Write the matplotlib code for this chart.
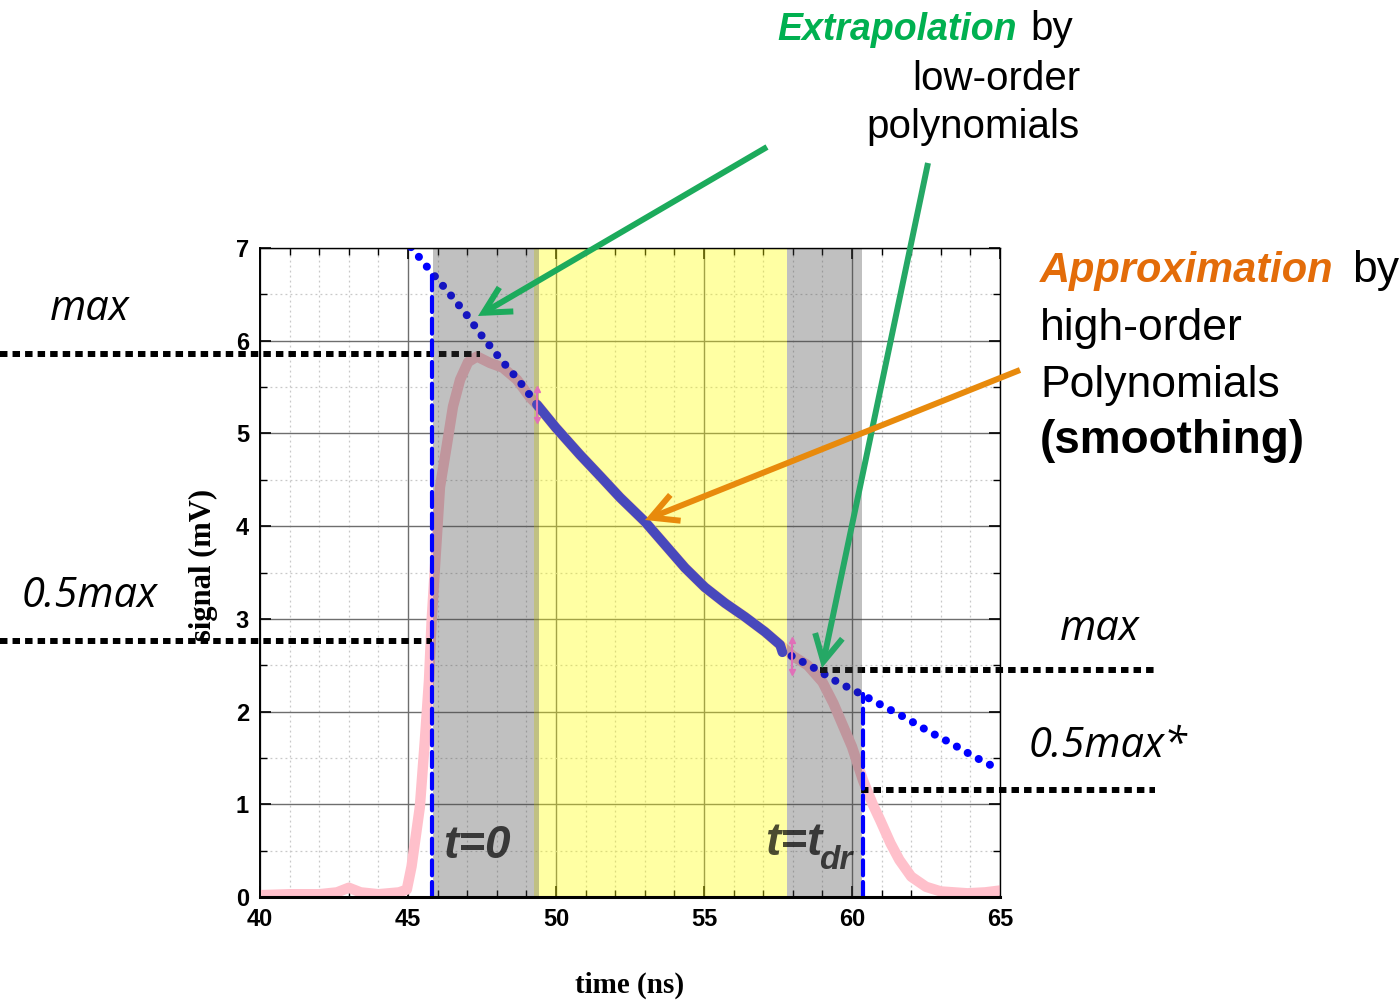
import matplotlib
matplotlib.use("Agg")
import matplotlib.pyplot as plt
from matplotlib.patches import FancyArrowPatch
from matplotlib.ticker import MultipleLocator

# ---------------- data ----------------
signal_t = [40.0, 41.0, 42.0, 42.6, 43.0, 43.4, 44.0, 44.7, 44.96, 45.12, 45.4, 45.57, 45.71,
            45.8, 46.08, 46.3, 46.52, 46.76, 47.03, 47.33, 47.77, 48.2, 48.68, 49.12, 49.36,
            50.0, 50.81, 51.49, 52.16, 53.0, 53.68, 54.36, 55.03, 55.71, 56.39, 57.06, 57.57,
            58.0, 58.5, 59.0, 59.37, 60.0, 60.37, 60.7, 60.95, 61.3, 61.6, 62.0, 62.5, 63.0,
            63.9, 64.5, 65.0]
signal_v = [0.02, 0.03, 0.03, 0.05, 0.10, 0.05, 0.03, 0.05, 0.08, 0.33, 0.97, 1.69, 2.34,
            2.99, 4.42, 4.85, 5.29, 5.58, 5.77, 5.83, 5.76, 5.71, 5.58, 5.39, 5.31,
            5.06, 4.77, 4.54, 4.31, 4.05, 3.80, 3.55, 3.34, 3.17, 3.02, 2.86, 2.72,
            2.60, 2.50, 2.32, 2.09, 1.62, 1.26, 1.00, 0.83, 0.58, 0.40, 0.22, 0.11, 0.06,
            0.04, 0.05, 0.07]

fit_t = [49.36, 50.0, 50.81, 51.49, 52.16, 53.0, 53.68, 54.36, 55.03, 55.71, 56.39, 57.06, 57.57, 57.65]
fit_v = [5.31, 5.06, 4.77, 4.54, 4.31, 4.05, 3.80, 3.55, 3.34, 3.17, 3.02, 2.86, 2.72, 2.64]

extrap_left_t = [45.1, 45.71, 46.32, 46.93, 47.5, 48.1, 48.72, 49.36]
extrap_left_v = [7.01, 6.77, 6.54, 6.30, 6.05, 5.81, 5.58, 5.31]
extrap_right_t = [57.96, 58.72, 59.5, 60.3, 61.05, 61.82, 62.57, 63.34, 64.09, 65.0]
extrap_right_v = [2.60, 2.47, 2.32, 2.19, 2.06, 1.93, 1.79, 1.66, 1.52, 1.37]

t0 = 45.81
t_dr = 60.37
t0_top = 6.74
tdr_top = 2.19

gray_spans = [(45.84, 49.42), (57.80, 60.34)]
yellow_span = (49.25, 57.80)

bound_t = [49.36, 57.97]
bound_v = [5.31, 2.60]
bound_err = [0.17, 0.17]

max_left = 5.86
half_left = 2.76
max_right = 2.45
half_right = 1.15

xticks = [40, 45, 50, 55, 60, 65]
yticks = [0, 1, 2, 3, 4, 5, 6, 7]

# ---------------- figure ----------------
W, H = 1400, 1002
def fx(x):
    return x / W
def fy(y):
    return 1 - y / H

fig = plt.figure(figsize=(14, 10.02), dpi=100)
ax = fig.add_axes([260 / W, 1 - 897 / H, 740 / W, 649 / H])
ax.set_xlim(40, 65)
ax.set_ylim(0, 7)

# grid
ax.xaxis.set_minor_locator(MultipleLocator(1))
ax.yaxis.set_minor_locator(MultipleLocator(0.5))
ax.set_xticks(xticks)
ax.set_yticks(yticks)
ax.grid(which='major', color='#6e6e6e', lw=1.0, ls='-', zorder=1.5)
ax.grid(which='minor', color='#c8c8c8', lw=0.9, ls=(0, (1.5, 2.5)), zorder=1.4)
ax.set_axisbelow(True)

# pink signal
ax.plot(signal_t, signal_v, color='#ffc0cb', lw=7.5, solid_capstyle='round', zorder=2.0)

# extrapolation dotted lines
dot_style = dict(color='#0000ff', lw=5.8, ls=(0, (0.01, 1.55)), dash_capstyle='round', zorder=2.1)
ax.plot(extrap_left_t, extrap_left_v, **dot_style)
ax.plot(extrap_right_t, extrap_right_v, **dot_style)

# black dotted level lines (extend outside axes)
xl = 40 + (0 - 260) / 29.6
xr = 40 + (1155 - 260) / 29.6
blk = dict(color='black', lw=4.3, ls=(0, (1.25, 0.85)), dash_capstyle='butt', clip_on=False, zorder=2.2)
ax.plot([xl, 47.43], [max_left, max_left], **blk)
ax.plot([xl, t0], [half_left, half_left], **blk)
ax.plot([58.92, xr], [max_right, max_right], **blk)
ax.plot([t_dr - 0.05, xr], [half_right, half_right], **blk)

# overlays
ax.axvspan(*yellow_span, color='#ffff00', alpha=0.36, lw=0, zorder=2.5)
for a, b in gray_spans:
    ax.axvspan(a, b, color='#424242', alpha=0.33, lw=0, zorder=2.6)

# high-order fit
ax.plot(fit_t, fit_v, color='#4848bc', lw=7.0, solid_capstyle='round', zorder=4)

# boundary markers
for bt, bv, be in zip(bound_t, bound_v, bound_err):
    ax.plot([bt, bt], [bv - be, bv + be], color='#e070b8', lw=1.5, zorder=4.2)
    ax.plot([bt], [bv + be], marker='^', ms=5, color='#e070b8', zorder=4.2)
    ax.plot([bt], [bv - be], marker='v', ms=5, color='#e070b8', zorder=4.2)

# dashed verticals
dash = dict(color='#0000ff', lw=3.0, ls=(0, (3.6, 1.6)), dash_capstyle='round', zorder=5)
ax.plot([t0, t0], [0, t0_top], **dash)
ax.plot([t_dr, t_dr], [0, tdr_top], **dash)

# t labels
ax.text(46.2, 0.42, 't=0', fontsize=33, fontweight='bold', fontstyle='italic',
        family='Liberation Sans', color='black', alpha=0.7, zorder=6)
ax.text(57.05, 0.45, 't=t', fontsize=33, fontweight='bold', fontstyle='italic',
        family='Liberation Sans', color='black', alpha=0.7, zorder=6)
ax.text(58.9, 0.30, 'dr', fontsize=24, fontweight='bold', fontstyle='italic',
        family='Liberation Sans', color='black', alpha=0.7, zorder=6)

# ticks & spines
tickfont = ['Liberation Sans Narrow', 'Liberation Sans', 'DejaVu Sans']
ax.tick_params(which='both', direction='in', top=True, right=True, color='black')
ax.tick_params(which='major', length=8, width=1.2, pad=8)
ax.tick_params(which='minor', length=5, width=1.0)
for lab in ax.get_xticklabels() + ax.get_yticklabels():
    lab.set_fontfamily(tickfont)
    lab.set_fontweight('bold')
    lab.set_fontsize(17)
for s in ax.spines.values():
    s.set_color('black')
    s.set_linewidth(1.0)
    s.set_zorder(7)
ax.spines['bottom'].set_linewidth(2.2)
ax.spines['left'].set_linewidth(1.4)

# axis labels
fig.text(fx(630), fy(985), 'time (ns)', ha='center', va='center', fontsize=21,
         fontweight='bold', family=['Liberation Serif', 'DejaVu Serif'])
fig.text(fx(203), fy(565), 'signal (mV)', ha='center', va='center', rotation=90, fontsize=22,
         fontweight='bold', family=['Liberation Serif', 'DejaVu Serif'])

# level labels
lvl = dict(fontsize=30, fontstyle='italic', family=['Open Sans', 'DejaVu Sans'], va='baseline')
fig.text(fx(90), fy(320), 'max', ha='center', **lvl)
fig.text(fx(90), fy(607), '0.5max', ha='center', **lvl)
fig.text(fx(1100), fy(640), 'max', ha='center', **lvl)
fig.text(fx(1108), fy(757), '0.5max*', ha='center', **lvl)

# annotation text blocks
sans = ['Liberation Sans', 'DejaVu Sans']
fig.text(fx(1017), fy(40), 'Extrapolation', ha='right', va='baseline', fontsize=27,
         fontweight='bold', fontstyle='italic', color='#00b050', family=sans)
fig.text(fx(1030), fy(40), 'by', ha='left', va='baseline', fontsize=29, family=sans)
fig.text(fx(1080), fy(90), 'low-order', ha='right', va='baseline', fontsize=29, family=sans)
fig.text(fx(1080), fy(138), 'polynomials', ha='right', va='baseline', fontsize=29, family=sans)

fig.text(fx(1040), fy(282), 'Approximation', ha='left', va='baseline', fontsize=30,
         fontweight='bold', fontstyle='italic', color='#e36c09', family=sans)
fig.text(fx(1352), fy(282), 'by', ha='left', va='baseline', fontsize=32, family=sans)
fig.text(fx(1040), fy(340), 'high-order', ha='left', va='baseline', fontsize=32, family=sans)
fig.text(fx(1040), fy(397), 'Polynomials', ha='left', va='baseline', fontsize=32, family=sans)
fig.text(fx(1040), fy(453), '(smoothing)', ha='left', va='baseline', fontsize=33,
         fontweight='bold', family=sans)

# arrows
def arrow(p0, p1, color):
    a = FancyArrowPatch((fx(p0[0]), fy(p0[1])), (fx(p1[0]), fy(p1[1])),
                        transform=fig.transFigure, arrowstyle='->,head_length=1.9,head_width=1.0',
                        mutation_scale=10, lw=4.3, color=color, zorder=10,
                        shrinkA=0, shrinkB=0, capstyle='butt', joinstyle='miter')
    fig.patches.append(a)

arrow((767, 147), (478, 316), '#1cab5c')
arrow((928, 163), (822, 668), '#25a865')
arrow((1020, 370), (645, 520), '#e88a0c')

fig.savefig('out.png', dpi=100)
